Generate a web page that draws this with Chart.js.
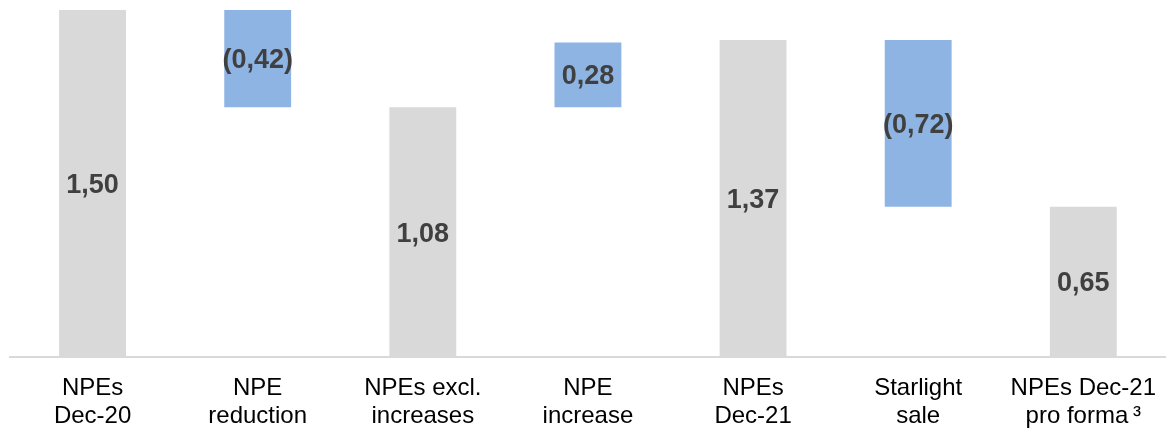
<!DOCTYPE html>
<html>
<head>
<meta charset="utf-8">
<script src="https://cdn.jsdelivr.net/npm/chart.js@4/dist/chart.umd.min.js"></script>
<style>
  html, body { margin: 0; padding: 0; background: #fff; overflow: hidden; }
  #wrap { width: 1173px; height: 428px; }
</style>
</head>
<body>
<div id="wrap"><canvas id="npeChart"></canvas></div>
<script>
// categories (two-line labels)
const categories = [
    ['NPEs', 'Dec-20'],
    ['NPE', 'reduction'],
    ['NPEs excl.', 'increases'],
    ['NPE', 'increase'],
    ['NPEs', 'Dec-21'],
    ['Starlight', 'sale'],
    ['NPEs Dec-21', 'pro forma\u2009\u00B3']
];
// totals are full bars, the rest are movements
const values = [1.50, -0.42, 1.08, 0.28, 1.37, -0.72, 0.65];
const isTotal = [true, false, true, false, true, false, true];

const totalColor = '#d9d9d9';
const moveColor = '#8eb4e3';

// build floating ranges
let running = 0;
const ranges = values.map((v, i) => {
    if (isTotal[i]) {
        running = v;
        return [0, v];
    }
    const from = running;
    running = running + v;
    return [Math.min(from, running), Math.max(from, running)];
});

const fmt = (v) => {
    const s = Math.abs(v).toFixed(2).replace('.', ',');
    return v < 0 ? '(' + s + ')' : s;
};

//draw value labels in the middle of each bar
const valueLabels = {
    id: 'valueLabels',
    afterDatasetsDraw(chart) {
        const ctx = chart.ctx;
        const meta = chart.getDatasetMeta(0);
        ctx.save();
        ctx.font = 'bold 27px "Liberation Sans", Arial, sans-serif';
        ctx.fillStyle = '#404040';
        ctx.textAlign = 'center';
        ctx.textBaseline = 'middle';
        meta.data.forEach((bar, i) => {
            const mid = (bar.y + bar.base) / 2;
            ctx.fillText(fmt(values[i]), bar.x, mid + 2);
        });
        ctx.restore();
    }
};

new Chart(document.getElementById('npeChart'), {
    type: 'bar',
    data: {
        labels: categories,
        datasets: [{
            data: ranges,
            backgroundColor: isTotal.map(t => t ? totalColor : moveColor),
            borderWidth: 0,
            barPercentage: 0.405,
            categoryPercentage: 1
        }]
    },
    options: {
        responsive: true,
        maintainAspectRatio: false,
        animation: false,
        layout: { padding: { left: 10, top: 10, right: 0, bottom: 0 } },
        plugins: {
            legend: { display: false },
            tooltip: { enabled: false }
        },
        scales: {
            x: {
                grid: { display: false, drawTicks: false },
                border: { color: '#d9d9d9', width: 2 },
                afterFit: (scale) => { scale.height = 71; },
                ticks: {
                    color: '#000',
                    padding: 17,
                    maxRotation: 0,
                    autoSkip: false,
                    font: { family: '"Liberation Sans", Arial, sans-serif', size: 24, lineHeight: 1.17 }
                }
            },
            y: {
                display: false,
                min: 0,
                max: 1.5
            }
        }
    },
    plugins: [valueLabels]
});
</script>
</body>
</html>
